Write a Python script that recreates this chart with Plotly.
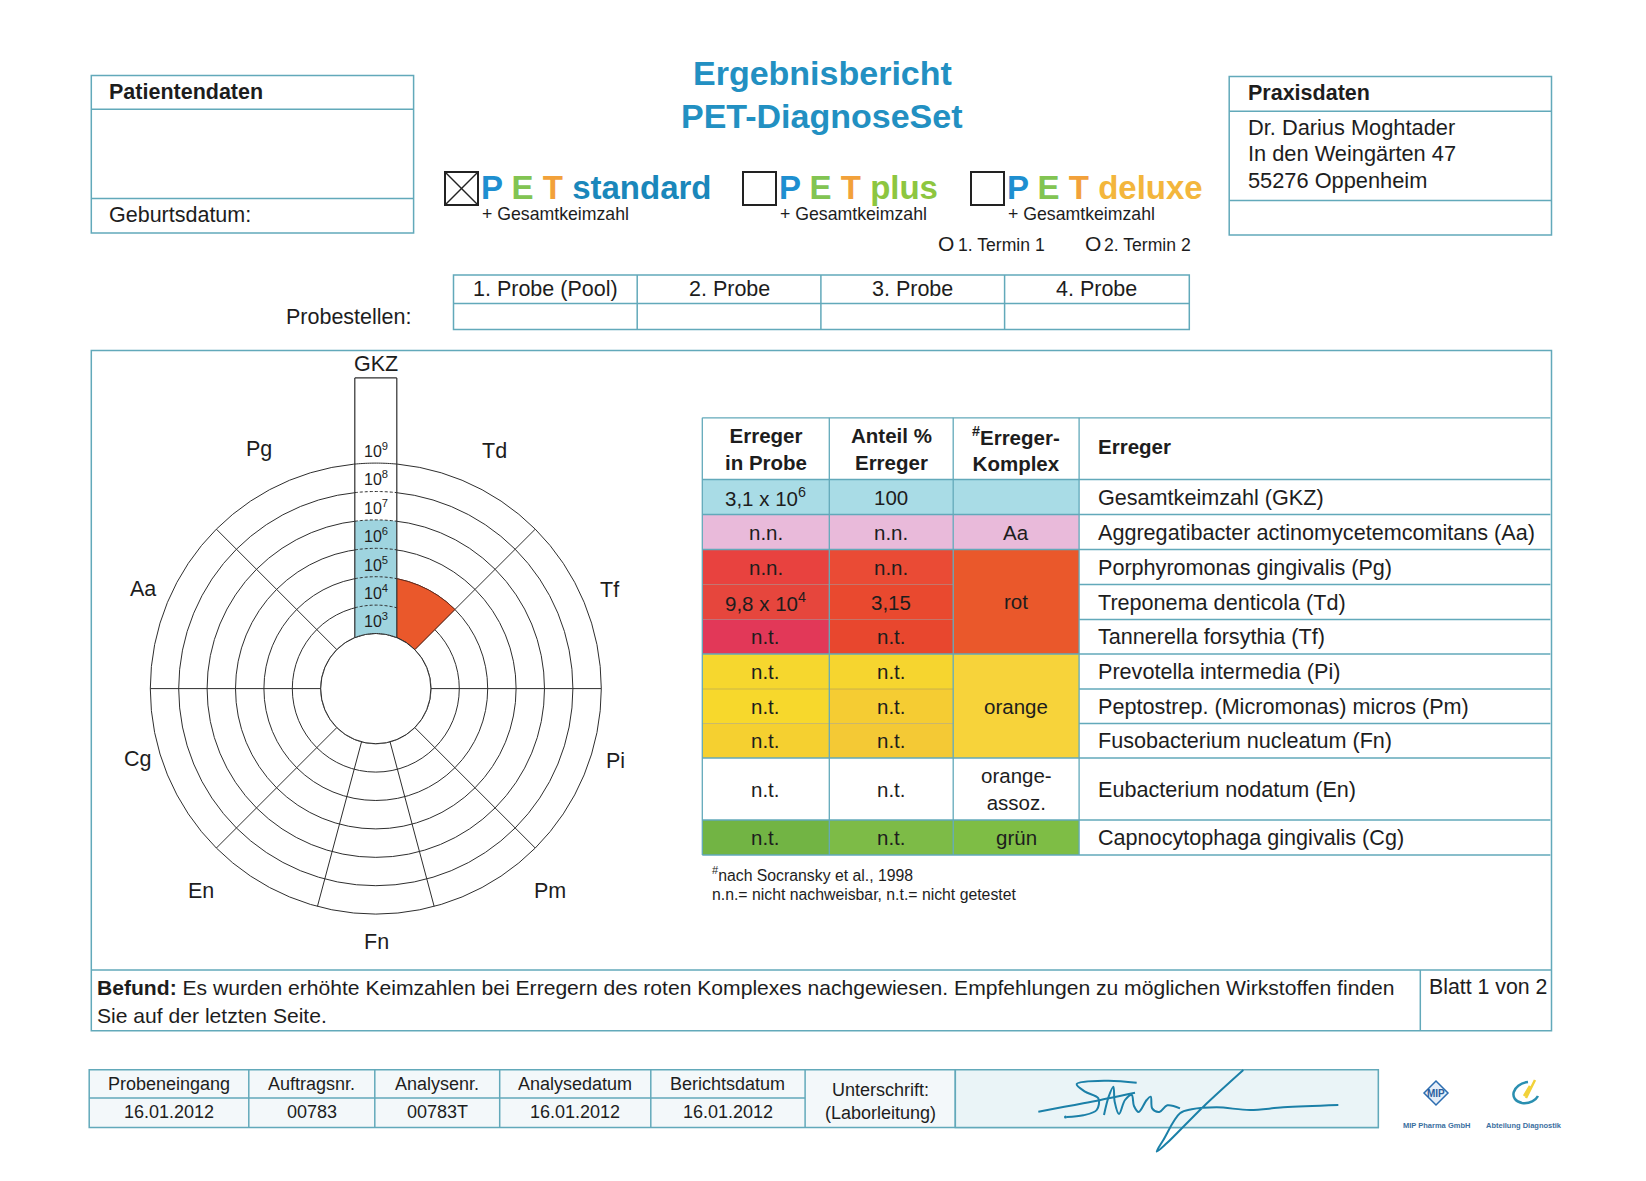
import numpy as np
import plotly.graph_objects as go

W, H = 1646, 1181
OFF = 8  # browser body margin

# ---------------- data ----------------
title_lines = ["Ergebnisbericht", "PET-DiagnoseSet"]
products = ["standard", "plus", "deluxe"]
product_checked = [True, False, False]
termine = ["1. Termin 1", "2. Termin 2"]
probe_headers = ["1. Probe (Pool)", "2. Probe", "3. Probe", "4. Probe"]
praxis_lines = ["Dr. Darius Moghtader", "In den Weingärten 47", "55276 Oppenheim"]

row_abbr = ["GKZ", "Aa", "Pg", "Td", "Tf", "Pi", "Pm", "Fn", "En", "Cg"]
row_names = ["Gesamtkeimzahl (GKZ)",
             "Aggregatibacter actinomycetemcomitans (Aa)",
             "Porphyromonas gingivalis (Pg)",
             "Treponema denticola (Td)",
             "Tannerella forsythia (Tf)",
             "Prevotella intermedia (Pi)",
             "Peptostrep. (Micromonas) micros (Pm)",
             "Fusobacterium nucleatum (Fn)",
             "Eubacterium nodatum (En)",
             "Capnocytophaga gingivalis (Cg)"]
row_counts = [3.1e6, None, None, 9.8e4, None, None, None, None, None, None]
row_status = ["", "n.n.", "n.n.", "", "n.t.", "n.t.", "n.t.", "n.t.", "n.t.", "n.t."]
row_anteil = [100, None, None, 3.15, None, None, None, None, None, None]
komplex_labels = ["", "Aa", "rot", "orange", "orange-<br>assoz.", "grün"]
komplex_first = [0, 1, 2, 5, 8, 9]
komplex_len = [1, 1, 3, 3, 1, 1]

spoke_order = ["Pg", "Td", "Tf", "Pi", "Pm", "Fn", "En", "Cg", "Aa"]
exponents = [3, 4, 5, 6, 7, 8, 9]

footer_headers = ["Probeneingang", "Auftragsnr.", "Analysenr.", "Analysedatum", "Berichtsdatum"]
footer_values = ["16.01.2012", "00783", "00783T", "16.01.2012", "16.01.2012"]
befund_head = "Befund:"
befund = ("Es wurden erhöhte Keimzahlen bei Erregern des roten Komplexes "
          "nachgewiesen. Empfehlungen zu möglichen Wirkstoffen finden")
befund2 = "Sie auf der letzten Seite."

# ---------------- styles / layout ----------------
FONT = "Liberation Sans, Arial, sans-serif"
DARK = "#1d1d1d"
LINE = "#62a9ba"
TITLE_C = "#2290c2"
P_C, E_C, T_C = "#1e8fd0", "#82c452", "#f2a13a"
product_colors = ["#1a87bb", "#8dc640", "#f3b63c"]

row_fill_1 = ["#a9dce6", "#e9bada", "#e8423f", "#e6463d", "#e23858",
              "#f6d72e", "#f7d82c", "#f5d030", "#ffffff", "#72b444"]
row_fill_2 = ["#a9dce6", "#e9bada", "#ea4b35", "#e9492f", "#e8472e",
              "#f6d52f", "#f5cc33", "#f4c935", "#ffffff", "#7dbb47"]
komplex_fill = ["#a9dce6", "#e9bada", "#ea582b", "#f7d33a", "#ffffff", "#7ebd45"]

# polar geometry (page pixels)
cx, cy, R = 375.8, 688.6, 225.5
hole = 0.2443
rmin, rmax = 3, 9
spoke_start = [315, 0, 45, 90, 135, 165, 195, 225, 270]
spoke_span = [45, 45, 45, 45, 30, 30, 30, 45, 45]
spoke_label_xy = [(259, 449), (494, 451), (609, 590), (615, 761), (550, 891),
                  (376, 942), (201, 891), (137, 759), (143, 589)]
bar_hw = 21.0
bar_top_level = 12

FW, FH = W - 2 * OFF, H - 2 * OFF
shapes, ann = [], []


def rho(level):
    return R * (hole + (1 - hole) * (level - rmin) / (rmax - rmin))


def rect(x0, y0, x1, y1, line=LINE, width=1.5, fill="rgba(0,0,0,0)", layer="below"):
    shapes.append(dict(type="rect", xref="x", yref="y", x0=x0, y0=y0, x1=x1, y1=y1,
                       line=dict(color=line, width=width if line else 0),
                       fillcolor=fill, layer=layer))


def seg(x0, y0, x1, y1, color=LINE, width=1.5, layer="below", dash="solid"):
    shapes.append(dict(type="line", xref="x", yref="y", x0=x0, y0=y0, x1=x1, y1=y1,
                       line=dict(color=color, width=width, dash=dash), layer=layer))


def path(d, color=DARK, width=1, fill="rgba(0,0,0,0)", layer="above", dash="solid"):
    shapes.append(dict(type="path", xref="x", yref="y", path=d,
                       line=dict(color=color, width=width, dash=dash),
                       fillcolor=fill, layer=layer))


def text(x, y, s, size=21, xa="center", ya="middle", color=DARK, bold=False):
    ann.append(dict(x=x, y=y, xref="x", yref="y", text=s, showarrow=False,
                    xanchor=xa, yanchor=ya, align="center" if xa == "center" else xa,
                    font=dict(size=size, color=color, family=FONT,
                              weight="bold" if bold else "normal")))


def fmt_count(v):
    e = int(np.floor(np.log10(v)))
    return f"{v / 10 ** e:.1f}".replace(".", ",") + f" x 10<sup>{e}</sup>"


def fmt_pct(p):
    return f"{p:g}".replace(".", ",")


fig = go.Figure()

# ---------------- header boxes ----------------
rect(91.3, 75.6, 413.6, 233)
seg(91.3, 109.2, 413.6, 109.2)
seg(91.3, 198.4, 413.6, 198.4)
text(107, 92, "Patientendaten", 21.5, "left", bold=True)
text(107, 215, "Geburtsdatum:", 21.5, "left")

rect(1229.2, 76.6, 1551.5, 235.1)
seg(1229.2, 111.3, 1551.5, 111.3)
seg(1229.2, 200.5, 1551.5, 200.5)
text(1246, 93, "Praxisdaten", 21.5, "left", bold=True)
for i, s in enumerate(praxis_lines):
    text(1246, 127 + 26.8 * i, s, 21.8, "left")

text(822, 73, title_lines[0], 34, color=TITLE_C, bold=True)
text(822, 116, title_lines[1], 34, color=TITLE_C, bold=True)

box_x = [445, 743, 971]
for bx, name, col, chk in zip(box_x, products, product_colors, product_checked):
    rect(bx, 172, bx + 33, 205, line="#222222", width=2)
    if chk:
        seg(bx, 172, bx + 33, 205, color="#222222", width=1.5)
        seg(bx, 205, bx + 33, 172, color="#222222", width=1.5)
    s = (f"<span style='color:{P_C}'>P</span> <span style='color:{E_C}'>E</span> "
         f"<span style='color:{T_C}'>T</span> <span style='color:{col}'>{name}</span>")
    text(bx + 34, 187, s, 33, "left", bold=True)
    text(bx + 35, 214, "+ Gesamtkeimzahl", 17.7, "left")

for ox, tx, s in zip([936, 1083], [956, 1102], termine):
    text(ox, 243, "O", 21, "left")
    text(tx, 245, s, 17.6, "left")

# probe table
px = [453.5, 637.2, 820.9, 1004.6, 1189.3]
rect(px[0], 275, px[-1], 329.6)
seg(px[0], 303.4, px[-1], 303.4)
for x in px[1:-1]:
    seg(x, 275, x, 329.6)
for i, s in enumerate(probe_headers):
    text((px[i] + px[i + 1]) / 2, 289, s, 21.5)
text(413.6, 317, "Probestellen:", 21.5, "right")

# main box
rect(91.3, 350.6, 1551.5, 1030.8)
seg(91.3, 970, 1551.5, 970)
seg(1420.3, 970, 1420.3, 1030.8)
text(94.5, 987, f"<b>{befund_head}</b> {befund}", 21.1, "left")
text(94.5, 1015, befund2, 21.1, "left")
text(1426.5, 987, "Blatt 1 von 2", 21.3, "left")

# ---------------- polar chart ----------------
GRID = "#2e2e2e"
bar_theta, bar_w, bar_r, bar_col = [], [], [], []
for name, st, sp in zip(spoke_order, spoke_start, spoke_span):
    i = row_abbr.index(name)
    v = row_counts[i]
    if v:
        level = int(np.floor(np.log10(v))) + 1
        bar_theta.append(st + sp / 2)
        bar_w.append(sp)
        bar_r.append(level - rmin)
        g = max(k for k, f in enumerate(komplex_first) if f <= i)
        bar_col.append(komplex_fill[g])

fig.add_trace(go.Barpolar(r=bar_r, theta=bar_theta, width=bar_w, base=rmin,
                          marker=dict(color=bar_col, line=dict(color="#6b2a1a", width=1)),
                          hoverinfo="skip"))
circle_theta = np.linspace(0, 360, 361)
fig.add_trace(go.Scatterpolar(r=np.full(circle_theta.size, rmin), theta=circle_theta,
                              mode="lines", line=dict(color=GRID, width=1), hoverinfo="skip"))

bounds = sorted(set(spoke_start))
pcx, pcy = cx - OFF, cy - OFF
fig.update_layout(polar=dict(
    domain=dict(x=[(pcx - R) / FW, (pcx + R) / FW],
                y=[(FH - pcy - R) / FH, (FH - pcy + R) / FH]),
    hole=hole, bgcolor="rgba(0,0,0,0)",
    radialaxis=dict(range=[rmin, rmax], tickvals=exponents[1:-1], showticklabels=False,
                    ticks="", showline=False, gridcolor=GRID, gridwidth=1),
    angularaxis=dict(rotation=90, direction="clockwise", tickvals=bounds,
                     showticklabels=False, ticks="", gridcolor=GRID, gridwidth=1,
                     showline=True, linecolor=GRID, linewidth=1)))

# GKZ column (overlay above polar)
xl, xr = cx - bar_hw, cx + bar_hw
ytop = cy - rho(bar_top_level)


def arc(level, left_to_right=True, n=24):
    r = rho(level)
    xs = np.linspace(xl, xr, n) if left_to_right else np.linspace(xr, xl, n)
    ys = cy - np.sqrt(r ** 2 - (xs - cx) ** 2)
    return xs, ys


def pts(xs, ys):
    return " ".join(f"L {x:.2f},{y:.2f}" for x, y in zip(xs, ys))


ax, ay = arc(rmin, False)
path(f"M {xl},{ytop} L {xr},{ytop} " + pts(ax, ay) + " Z", color="rgba(0,0,0,0)", width=0,
     fill="white")
gkz_level = int(np.floor(np.log10(row_counts[0]))) + 1
bx1, by1 = arc(gkz_level, True)
bx0, by0 = arc(rmin, False)
d = f"M {bx1[0]:.2f},{by1[0]:.2f} " + pts(bx1, by1) + " " + pts(bx0, by0) + " Z"
path(d, color="rgba(0,0,0,0)", width=0, fill="#9fd4df")
for lv in exponents:
    xs, ys = arc(lv, True)
    dd = f"M {xs[0]:.2f},{ys[0]:.2f} " + pts(xs[1:], ys[1:])
    dash = "solid" if lv in (rmin, rmax) else "3px,2px"
    path(dd, color=GRID, width=1, dash=dash)
ybl = cy - np.sqrt(rho(rmin) ** 2 - bar_hw ** 2)
seg(xl, ybl, xl, ytop, color=GRID, width=1.2, layer="above")
seg(xr, ybl, xr, ytop, color=GRID, width=1.2, layer="above")
seg(xl, ytop, xr, ytop, color=GRID, width=1.2, layer="above")
for lv in exponents:
    text(cx, cy - rho(lv + 0.5) + 1, f"10<sup>{lv}</sup>", 16)
text(cx, 364, "GKZ", 21.5)
for name, (lx, ly) in zip(spoke_order, spoke_label_xy):
    text(lx, ly, name, 21.5)

# ---------------- result table ----------------
cols = [702.3, 829.3, 953.2, 1079.1, 1550.4]
ry = [417.8, 479.5, 514.5, 549.5, 584.5, 619.5, 654.0, 689.0, 723.5, 758.0, 820.0, 855.0]
for i in range(len(row_names)):
    y0, y1 = ry[i + 1], ry[i + 2]
    rect(cols[0], y0, cols[1], y1, line=None, fill=row_fill_1[i])
    rect(cols[1], y0, cols[2], y1, line=None, fill=row_fill_2[i])
for k, (f, n) in enumerate(zip(komplex_first, komplex_len)):
    rect(cols[2], ry[f + 1], cols[3], ry[f + 1 + n], line=None, fill=komplex_fill[k])

group_edges = set(komplex_first) | {len(row_names)}
for j, y in enumerate(ry):
    r = j - 1
    if j <= 1 or r in group_edges:
        seg(cols[0], y, cols[4], y, width=1.3)
    else:
        seg(cols[0], y, cols[2], y, color="rgba(120,120,120,0.35)", width=1)
        seg(cols[3], y, cols[4], y, width=1.3)
for x in cols[:4]:
    seg(x, ry[0], x, ry[-1], width=1.3)

hy = (ry[0] + ry[1]) / 2
text((cols[0] + cols[1]) / 2, hy, "Erreger<br>in Probe", 20.5, bold=True)
text((cols[1] + cols[2]) / 2, hy, "Anteil %<br>Erreger", 20.5, bold=True)
text((cols[2] + cols[3]) / 2, hy, "<sup>#</sup>Erreger-<br>Komplex", 20.5, bold=True)
text(cols[3] + 17, hy - 2, "Erreger", 20.5, "left", bold=True)

for i in range(len(row_names)):
    yc = (ry[i + 1] + ry[i + 2]) / 2
    v = row_counts[i]
    text((cols[0] + cols[1]) / 2, yc, fmt_count(v) if v else row_status[i], 20.5)
    p = row_anteil[i]
    text((cols[1] + cols[2]) / 2, yc, fmt_pct(p) if p is not None else row_status[i], 20.5)
    text(cols[3] + 17, yc, row_names[i], 21.6, "left")
for k, (f, n) in enumerate(zip(komplex_first, komplex_len)):
    if komplex_labels[k]:
        text((cols[2] + cols[3]) / 2, (ry[f + 1] + ry[f + 1 + n]) / 2, komplex_labels[k], 20.5)

text(709.6, 874.4, "<sup>#</sup>nach Socransky et al., 1998", 15.8, "left")
text(709.6, 894.4, "n.n.= nicht nachweisbar, n.t.= nicht getestet", 15.8, "left")

# ---------------- footer table ----------------
fx = [89.2, 248.8, 374.8, 499.7, 650.8, 805.1, 955.3, 1378.3]
fy0, fym, fy1 = 1069.7, 1098.0, 1127.4
rect(fx[0], fy0, fx[-1], fy1, fill="#f3f8fa")
rect(fx[-2], fy0, fx[-1], fy1, fill="#eaf4f7")
seg(fx[0], fym, fx[5], fym)
for x in fx[1:-1]:
    seg(x, fy0, x, fy1)
for i in range(len(footer_headers)):
    xc = (fx[i] + fx[i + 1]) / 2
    text(xc, 1083.5, footer_headers[i], 18)
    text(xc, 1112, footer_values[i], 18)
text((fx[5] + fx[6]) / 2, 1101, "Unterschrift:<br>(Laborleitung)", 18)

# signature (decorative pen strokes)
SIG = "#1b80a8"
strokes = [
    [(265, 185), (400, 160), (555, 128)],
    [(560, 98), (470, 92), (380, 102), (405, 125), (445, 145), (440, 180), (400, 196), (350, 201)],
    [(462, 195), (476, 140), (490, 110), (494, 155), (507, 192), (525, 150), (545, 135),
     (552, 168), (566, 186), (590, 150), (602, 140), (607, 176), (628, 186), (652, 166), (690, 175)],
    [(880, 60), (760, 170), (650, 280), (620, 305), (640, 270), (690, 190), (725, 178),
     (800, 172), (900, 180), (1000, 172), (1165, 165)],
]
for st in strokes:
    xs = [950 + a / 3 for a, b in st]
    ys = [1050 + b / 3 for a, b in st]
    fig.add_trace(go.Scatter(x=xs, y=ys, mode="lines", line=dict(color=SIG, width=2, shape="spline"),
                             hoverinfo="skip"))
shapes.append(dict(type="circle", xref="x", yref="y", x0=1064, y0=1115.5, x1=1067, y1=1118.5,
                   fillcolor=SIG, line=dict(width=0)))

# logos
path("M 1424,1093 L 1436,1081 L 1448,1093 L 1436,1105 Z", color="#2c6db0", width=1.5,
     fill="#e6eef8", layer="below")
text(1436, 1093, "MIP", 10, color="#2c5f9e", bold=True)
text(1436, 1125, "MIP Pharma GmbH", 7.5, color="#3b6fa0", bold=True)
path("M 1528,1082 C 1512,1084 1508,1100 1522,1103 C 1530,1104 1536,1100 1538,1096",
     color="#2a8fb0", width=2.5, fill="rgba(0,0,0,0)", layer="below")
path("M 1524,1096 L 1530,1086 M 1526,1098 L 1535,1080", color="#f2d23a", width=2.5,
     fill="rgba(0,0,0,0)", layer="below")
text(1524, 1125, "Abteilung Diagnostik", 7.5, color="#3b6fa0", bold=True)

fig.update_layout(
    width=FW, height=FH, margin=dict(l=0, r=0, t=0, b=0),
    paper_bgcolor="white", plot_bgcolor="rgba(0,0,0,0)", showlegend=False,
    xaxis=dict(range=[OFF, W - OFF], visible=False, domain=[0, 1], fixedrange=True),
    yaxis=dict(range=[H - OFF, OFF], visible=False, domain=[0, 1], fixedrange=True),
    shapes=shapes, annotations=ann,
    font=dict(family=FONT, color=DARK),
)
fig.write_html("out.html")
